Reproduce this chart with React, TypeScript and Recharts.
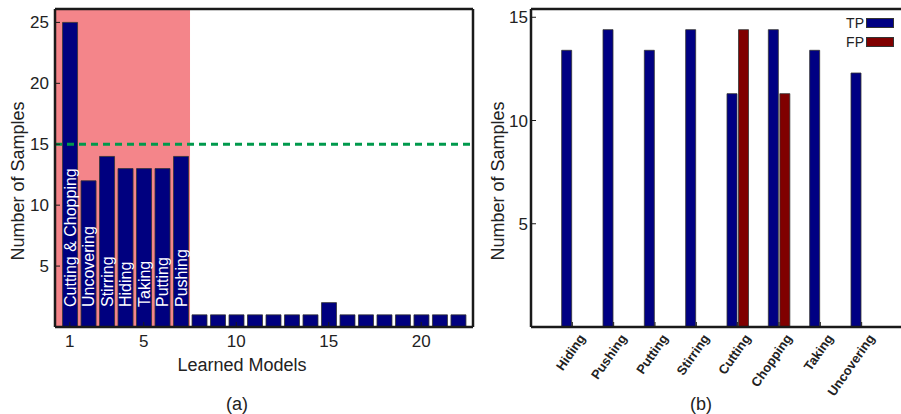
import React from 'react'
import { BarChart, Bar, XAxis, YAxis, ReferenceArea, ReferenceLine, LabelList, Legend } from 'recharts'

// (a) learned models
const MODEL_IDS = [1, 2, 3, 4, 5, 6, 7, 8, 9, 10, 11, 12, 13, 14, 15, 16, 17, 18, 19, 20, 21, 22]
const MODEL_SAMPLES = [25, 12, 14, 13, 13, 13, 14, 1, 1, 1, 1, 1, 1, 1, 2, 1, 1, 1, 1, 1, 1, 1]
const MODEL_NAMES = ['Cutting & Chopping', 'Uncovering', 'Stirring', 'Hiding', 'Taking', 'Putting', 'Pushing',
  '', '', '', '', '', '', '', '', '', '', '', '', '', '', '']
const MODEL_TICKS = [1, 5, 10, 15, 20]
const MODEL_Y_TICKS = [5, 10, 15, 20, 25]
const THRESHOLD = 15
const SHADED_UNTIL = 7.5

// (b) true / false positives per action
const ACTIONS = ['Hiding', 'Pushing', 'Putting', 'Stirring', 'Cutting', 'Chopping', 'Taking', 'Uncovering']
const TP_VALUES = [13.4, 14.4, 13.4, 14.4, 11.3, 14.4, 13.4, 12.3]
const FP_VALUES = [0, 0, 0, 0, 14.4, 11.3, 0, 0]
const ACTION_Y_TICKS = [5, 10, 15]
const SERIES_ORDER = ['TP', 'FP']

const FONT = '"Liberation Sans", Arial, sans-serif'
const TEXT = '#222'
const frame = { stroke: '#1a1a1a', strokeWidth: 2.5 }
const tickLine = { stroke: '#1a1a1a', strokeWidth: 1 }
const tickFont = { fontSize: 17, fill: TEXT, fontFamily: FONT }

const modelData = MODEL_IDS.map((id, i) => ({ id, samples: MODEL_SAMPLES[i], name: MODEL_NAMES[i] }))
const actionData = ACTIONS.map((name, i) => ({ pos: i + 1, name, tp: TP_VALUES[i], fp: FP_VALUES[i] }))
const ACTION_POS = actionData.map(d => d.pos)

const renderBarName = (props: any) => {
  const { x, y, width, height, value } = props
  if (!value) return null
  const cx = Number(x) + Number(width) / 2
  const base = Number(y) + Number(height) - 20
  return (
    <text x={cx} y={base} transform={`rotate(-90 ${cx} ${base})`} fill="#fff" fontSize={16}
      fontFamily={FONT} dominantBaseline="central" textAnchor="start">
      {value}
    </text>
  )
}

const renderLegend = ({ payload }: any) => {
  const items = [...(payload || [])].sort((a: any, b: any) => SERIES_ORDER.indexOf(a.value) - SERIES_ORDER.indexOf(b.value))
  return (
    <div style={{ fontFamily: FONT, fontSize: 14, color: TEXT }}>
      {items.map((item: any) => (
        <div key={item.value} style={{ display: 'flex', alignItems: 'center', justifyContent: 'flex-end', height: 19 }}>
          <span style={{ marginRight: 2 }}>{item.value}</span>
          <span style={{ width: 28, height: 10, background: item.color, border: '1px solid #333', boxSizing: 'border-box' }} />
        </div>
      ))}
    </div>
  )
}

const label = (text: string, cx: number, cy: number, rotate = false) => (
  <div style={{
    position: 'absolute', left: cx, top: cy, whiteSpace: 'nowrap', fontFamily: FONT, fontSize: 18, color: TEXT,
    transform: `translate(-50%, -50%)${rotate ? ' rotate(-90deg)' : ''}`, lineHeight: 1,
  }}>{text}</div>
)

export default function App() {
  return (
    <div style={{ position: 'absolute', left: 0, top: 0, width: 901, height: 414, overflow: 'hidden', background: '#fff' }}>
      {/* (a) */}
      <div style={{ position: 'absolute', left: 0, top: 0 }}>
        <BarChart width={480} height={414} data={modelData} margin={{ top: 9, right: 7, bottom: 47, left: 5 }} barSize={15}>
          <XAxis dataKey="id" type="number" domain={[0.2, 22.8]} ticks={MODEL_TICKS} height={40}
            tickSize={-5} tickMargin={13} axisLine={frame} tickLine={tickLine} tick={tickFont} />
          <XAxis xAxisId="top" orientation="top" dataKey="id" type="number" domain={[0.2, 22.8]} ticks={MODEL_TICKS}
            height={1} mirror tick={false} tickSize={5} axisLine={frame} tickLine={tickLine} />
          <YAxis type="number" domain={[0, 26.1]} ticks={MODEL_Y_TICKS} width={50}
            tickSize={-5} tickMargin={11} axisLine={frame} tickLine={tickLine} tick={tickFont} />
          <YAxis yAxisId="right" orientation="right" type="number" domain={[0, 26.1]} ticks={MODEL_Y_TICKS}
            width={1} mirror tick={false} tickSize={5} axisLine={frame} tickLine={tickLine} />
          <ReferenceArea x1={0.2} x2={SHADED_UNTIL} fill="#f4858a" fillOpacity={1} stroke="none" />
          <Bar dataKey="samples" fill="#00007f" stroke="#333" strokeWidth={0.8} isAnimationActive={false}>
            <LabelList dataKey="name" content={renderBarName} />
          </Bar>
          <ReferenceLine y={THRESHOLD} stroke="#00994c" strokeWidth={3} strokeDasharray="7 5" />
        </BarChart>
      </div>

      {/* (b) */}
      <div style={{ position: 'absolute', left: 480, top: 0 }}>
        <BarChart width={430} height={414} data={actionData} margin={{ top: 9, right: 7, bottom: 47, left: 5 }}
          barSize={10} barGap={1.5}>
          <XAxis dataKey="pos" type="number" domain={[0, 9]} ticks={ACTION_POS} height={40} interval={0}
            tickSize={-5} tickMargin={11} axisLine={frame} tickLine={tickLine}
            tickFormatter={(v: number) => ACTIONS[v - 1]}
            tick={{ angle: -55, textAnchor: 'end', dx: 6, fontSize: 13, fontWeight: 'bold', fill: TEXT, fontFamily: FONT }} />
          <XAxis xAxisId="top" orientation="top" dataKey="pos" type="number" domain={[0, 9]} ticks={ACTION_POS}
            height={1} mirror tick={false} tickSize={5} axisLine={frame} tickLine={tickLine} />
          <YAxis type="number" domain={[0, 15.4]} ticks={ACTION_Y_TICKS} width={46}
            tickSize={-5} tickMargin={8} axisLine={frame} tickLine={tickLine} tick={tickFont} />
          <YAxis yAxisId="right" orientation="right" type="number" domain={[0, 15.4]} ticks={ACTION_Y_TICKS}
            width={1} mirror tick={false} tickSize={5} axisLine={frame} tickLine={tickLine} />
          <Legend layout="horizontal" verticalAlign="middle" align="center" content={renderLegend}
            wrapperStyle={{ top: 13, left: 364, width: 50 }} />
          <Bar dataKey="tp" name="TP" fill="#000083" stroke="#333" strokeWidth={0.8} isAnimationActive={false} />
          <Bar dataKey="fp" name="FP" fill="#800000" stroke="#333" strokeWidth={0.8} isAnimationActive={false} />
        </BarChart>
      </div>

      {label('Number of Samples', 18, 181, true)}
      {label('Learned Models', 242, 365)}
      {label('(a)', 237, 404)}
      {label('Number of Samples', 498, 181, true)}
      {label('(b)', 701, 404)}
    </div>
  )
}
